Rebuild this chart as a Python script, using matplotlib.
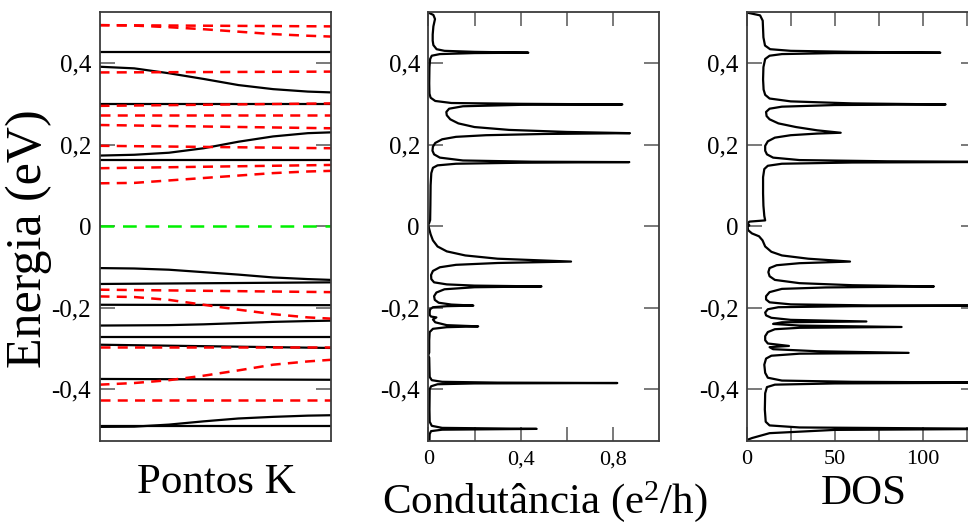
import matplotlib
matplotlib.use("Agg")
import matplotlib.pyplot as plt
from matplotlib.ticker import FixedLocator, FixedFormatter

plt.rcParams['font.family'] = ['Liberation Serif', 'DejaVu Serif']

# ---------------- band structure (energies in eV along the k path) ----------
k_flat = [0.0, 1.0]
k_path = [0.0, 0.15, 0.3, 0.45, 0.6, 0.75, 0.9, 1.0]

black_flat_bands = [
    [0.4265, 0.4265], [0.300, 0.300], [0.162, 0.162],
    [-0.142, -0.138], [-0.193, -0.194], [-0.272, -0.272],
    [-0.291, -0.299], [-0.375, -0.377], [-0.490, -0.490],
]
black_curved_bands = [
    [0.391, 0.387, 0.375, 0.361, 0.346, 0.336, 0.330, 0.328],
    [0.173, 0.175, 0.180, 0.191, 0.207, 0.220, 0.228, 0.230],
    [-0.103, -0.104, -0.107, -0.113, -0.119, -0.126, -0.130, -0.132],
    [-0.244, -0.2435, -0.243, -0.241, -0.238, -0.235, -0.233, -0.232],
    [-0.4926, -0.492, -0.487, -0.479, -0.472, -0.468, -0.465, -0.464],
]
red_flat_bands = [
    [0.493, 0.490], [0.377, 0.379], [0.295, 0.301], [0.273, 0.273],
    [0.248, 0.240], [0.197, 0.191], [0.142, 0.150], [-0.156, -0.162],
    [-0.2966, -0.2966], [-0.426, -0.426],
]
red_curved_bands = [
    [0.493, 0.492, 0.488, 0.483, 0.477, 0.471, 0.467, 0.465],
    [0.105, 0.106, 0.112, 0.118, 0.124, 0.130, 0.134, 0.1355],
    [-0.1725, -0.174, -0.181, -0.193, -0.205, -0.216, -0.224, -0.227],
    [-0.389, -0.385, -0.378, -0.367, -0.354, -0.340, -0.332, -0.328],
]
fermi_level = [0.0, 0.0]

# ---------------- conductance G(E) in units of e^2/h -------------------------
cond_G = [
    0.0, 0.022, 0.029, 0.022, 0.019, 0.019, 0.022, 0.036, 0.07, 0.2, 0.433,
    0.2, 0.05, 0.015, 0.008, 0.005, 0.004, 0.005, 0.01, 0.03, 0.1, 0.4,
    0.84, 0.4, 0.15, 0.09, 0.078, 0.08, 0.095, 0.13, 0.2, 0.35, 0.6,
    0.873, 0.5, 0.25, 0.12, 0.06, 0.03, 0.02, 0.018, 0.025, 0.05, 0.15,
    0.45, 0.87, 0.4, 0.12, 0.04, 0.02, 0.013, 0.01, 0.009, 0.008, 0.004,
    0.0, 0.003, 0.01, 0.02, 0.04, 0.08, 0.16, 0.3, 0.618, 0.3, 0.12,
    0.05, 0.02, 0.012, 0.013, 0.025, 0.08, 0.2, 0.49, 0.2, 0.07, 0.035,
    0.025, 0.028, 0.045, 0.1, 0.195, 0.08, 0.02, 0.008, 0.006, 0.006,
    0.012, 0.035, 0.02, 0.03, 0.08, 0.216, 0.08, 0.02, 0.006, 0.004,
    0.004, 0.0, 0.004, 0.005, 0.006, 0.015, 0.06, 0.3, 0.818, 0.2, 0.04,
    0.012, 0.006, 0.005, 0.006, 0.015, 0.06, 0.469, 0.06, 0.012, 0.006,
    0.005,
]
cond_E = [
    0.524, 0.518, 0.508, 0.49, 0.47, 0.455, 0.444, 0.434, 0.430, 0.4275,
    0.4255, 0.4245, 0.422, 0.418, 0.41, 0.39, 0.35, 0.325, 0.315, 0.307,
    0.302, 0.300, 0.2985, 0.2975, 0.294, 0.288, 0.28, 0.272, 0.262, 0.252,
    0.243, 0.236, 0.231, 0.228, 0.226, 0.223, 0.219, 0.213, 0.204, 0.195,
    0.185, 0.176, 0.168, 0.161, 0.158, 0.157, 0.1555, 0.153, 0.149, 0.143,
    0.13, 0.10, 0.05, 0.015, 0.008, 0.003, -0.005, -0.02, -0.035, -0.05,
    -0.062, -0.072, -0.080, -0.087, -0.0905, -0.095, -0.101, -0.11, -0.12,
    -0.13, -0.138, -0.143, -0.146, -0.148, -0.150, -0.155, -0.163, -0.172,
    -0.181, -0.188, -0.1925, -0.195, -0.1965, -0.199, -0.204, -0.21, -0.218,
    -0.222, -0.224, -0.229, -0.236, -0.243, -0.246, -0.248, -0.252, -0.26,
    -0.28, -0.31, -0.317, -0.323, -0.35, -0.37, -0.378, -0.382, -0.384,
    -0.385, -0.386, -0.388, -0.393, -0.40, -0.45, -0.48, -0.49, -0.495,
    -0.4975, -0.4995, -0.503, -0.51, -0.526,
]

# ---------------- density of states -----------------------------------------
dos_D = [
    0.0, 7.6, 9.1, 9.5, 10.4, 13.3, 25, 60, 110, 50, 20, 13, 10.5, 9.5,
    9.3, 9.6, 10.5, 13, 25, 60, 113, 50, 20, 13, 11, 11.3, 13, 18, 28, 40,
    53.4, 40, 25, 16, 12, 10.5, 10.5, 11.5, 15, 30, 80, 150, 60, 20, 12,
    10, 9.3, 9.3, 9.5, 10, 10.5, 1.5, 0.5, 1.5, 0.5, 0.8, 3, 7, 9, 10.5,
    14, 20, 35, 58.7, 30, 17, 13, 12.3, 13, 16, 30, 60, 106.4, 45, 20, 13,
    11, 11, 13, 25, 70, 150, 60, 18, 12, 10.5, 11, 14, 25, 68, 20, 15, 30,
    88, 30, 16, 12, 10.5, 10.5, 12, 24, 13, 15, 40, 92, 30, 14, 11, 10,
    10.5, 12, 20, 60, 150, 50, 16, 11.5, 10.5, 10.3, 10.8, 13, 30, 150,
    50, 13, 8, 3, 0.0,
]
dos_E = [
    0.524, 0.517, 0.504, 0.463, 0.443, 0.434, 0.430, 0.4275, 0.4255, 0.4245,
    0.422, 0.418, 0.41, 0.39, 0.36, 0.335, 0.322, 0.313, 0.306, 0.301,
    0.2985, 0.297, 0.293, 0.288, 0.28, 0.27, 0.262, 0.252, 0.243, 0.235,
    0.229, 0.227, 0.223, 0.217, 0.208, 0.197, 0.185, 0.176, 0.168, 0.162,
    0.159, 0.1575, 0.156, 0.153, 0.148, 0.14, 0.12, 0.08, 0.05, 0.025,
    0.014, 0.011, 0.006, 0.002, -0.002, -0.01, -0.018, -0.025, -0.035,
    -0.05, -0.063, -0.072, -0.080, -0.087, -0.091, -0.096, -0.103, -0.113,
    -0.123, -0.132, -0.140, -0.145, -0.148, -0.1505, -0.154, -0.162,
    -0.172, -0.18, -0.187, -0.192, -0.1945, -0.195, -0.1965, -0.199,
    -0.204, -0.212, -0.219, -0.225, -0.23, -0.234, -0.236, -0.24, -0.244,
    -0.2475, -0.2495, -0.253, -0.26, -0.27, -0.28, -0.288, -0.294, -0.297,
    -0.302, -0.307, -0.311, -0.313, -0.318, -0.325, -0.34, -0.36, -0.372,
    -0.379, -0.382, -0.384, -0.386, -0.389, -0.395, -0.41, -0.45, -0.48,
    -0.489, -0.494, -0.4975, -0.5, -0.508, -0.514, -0.520, -0.525,
]

e_ticks = [-0.4, -0.2, 0.0, 0.2, 0.4]
e_ticklabels = ['-0,4', '-0,2', '0', '0,2', '0,4']
g_ticks = [0.0, 0.2, 0.4, 0.6, 0.8]
g_ticklabels = ['0', '', '0,4', '', '0,8']
dos_ticks = [0, 25, 50, 75, 100, 125]
dos_ticklabels = ['0', '', '50', '', '100', '']

# ---------------- layout -----------------------------------------------------
W, H = 968, 528
fig = plt.figure(figsize=(W / 100, H / 100), dpi=100)

top_px, bot_px = 11.7, 440.5
ax_b = (H - bot_px) / H
ax_h = (bot_px - top_px) / H
ax1 = fig.add_axes([99.5 / W, ax_b, 231.5 / W, ax_h])
ax2 = fig.add_axes([428.3 / W, ax_b, 231.0 / W, ax_h])
ax3 = fig.add_axes([746.7 / W, ax_b, 228.8 / W, ax_h])

ylim = (-0.526, 0.526)
frame_col = '#3c3c3c'
tick_fs = 18
label_fs = 31

for ax in (ax1, ax2, ax3):
    ax.set_ylim(*ylim)
    for sp in ax.spines.values():
        sp.set_color(frame_col)
        sp.set_linewidth(1.3)
    ax.yaxis.set_major_locator(FixedLocator(e_ticks))
    ax.yaxis.set_major_formatter(FixedFormatter(e_ticklabels))
    ax.tick_params(axis='y', direction='in', left=True, right=True,
                   length=11, width=1.1, color='#555555',
                   labelsize=tick_fs, pad=6)

# ---- band structure ----
ax1.set_xlim(0, 1)
ax1.tick_params(axis='x', bottom=False, top=False, labelbottom=False)
black_kw = dict(color='black', lw=1.6, solid_capstyle='butt')
for band in black_flat_bands:
    ax1.plot(k_flat, band, **black_kw)
for band in black_curved_bands:
    ax1.plot(k_path, band, **black_kw)
red_kw = dict(color='#ff0000', lw=1.8, dashes=(4.0, 2.9))
for band in red_flat_bands:
    ax1.plot(k_flat, band, **red_kw)
for band in red_curved_bands:
    ax1.plot(k_path, band, **red_kw)
ax1.plot(k_flat, fermi_level, color='#00f000', lw=1.8, dashes=(5.5, 3.5))

ax1.set_ylabel('Energia (eV)', fontsize=36, va='center')
ax1.yaxis.set_label_coords(-0.305, 0.47)
ax1.set_xlabel('Pontos K', fontsize=label_fs, va='baseline')
ax1.xaxis.set_label_coords(0.503, -0.122)

# ---- conductance ----
ax2.plot(cond_G, cond_E, color='black', lw=1.6)
ax2.set_xlim(0, 1.0)
ax2.xaxis.set_major_locator(FixedLocator(g_ticks))
ax2.xaxis.set_major_formatter(FixedFormatter(g_ticklabels))
ax2.set_xlabel(r'Condutância (e$\mathregular{^2}$/h)', fontsize=label_fs,
               va='baseline')
ax2.xaxis.set_label_coords(0.505, -0.170)

# ---- density of states ----
ax3.plot(dos_D, dos_E, color='black', lw=1.6)
ax3.set_xlim(0, 130)
ax3.xaxis.set_major_locator(FixedLocator(dos_ticks))
ax3.xaxis.set_major_formatter(FixedFormatter(dos_ticklabels))
ax3.set_xlabel('DOS', fontsize=label_fs, va='baseline')
ax3.xaxis.set_label_coords(0.513, -0.148)

for ax in (ax2, ax3):
    ax.tick_params(axis='x', direction='in', bottom=True, top=True,
                   length=10, width=1.1, color='#555555',
                   labelsize=16, pad=7)

fig.savefig('out.png', dpi=100)
